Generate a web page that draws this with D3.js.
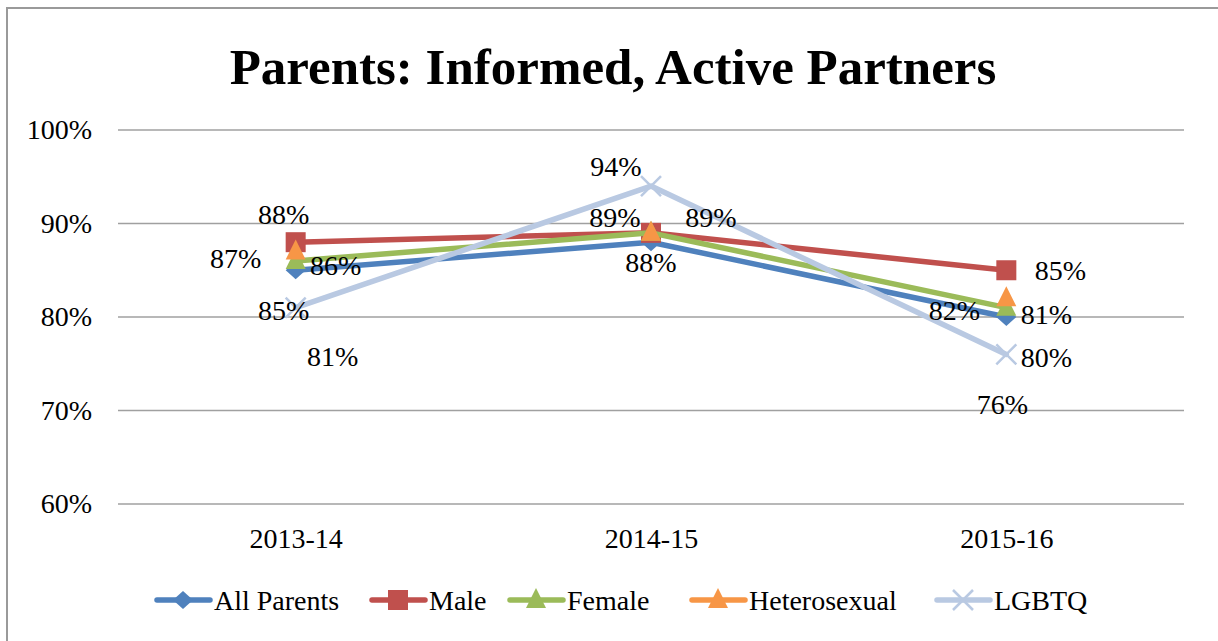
<!DOCTYPE html>
<html>
<head>
<meta charset="utf-8">
<script src="https://cdn.jsdelivr.net/npm/d3@7"></script>
<style>
  body { margin: 0; background: #fff; }
  svg text { font-family: "Liberation Serif", "DejaVu Serif", serif; fill: #000; }
</style>
</head>
<body>
<div id="chart"></div>
<script>
/* CONSTANTS AND GLOBALS */
const width = 1218,
  height = 641,
  margin = { top: 130, bottom: 137, left: 118, right: 34 },
  fontSize = 28;

/* DATA */
const years = ["2013-14", "2014-15", "2015-16"];
const seriesNames = ["All Parents", "Male", "Female", "Heterosexual", "LGBTQ"];
const allParents = [85, 88, 80];
const male = [88, 89, 85];
const female = [86, 89, 81];
const heterosexual = [87, 89, 82];
const lgbtq = [81, 94, 76];
const yTicks = [60, 70, 80, 90, 100];

const values = [allParents, male, female, heterosexual, lgbtq];

// styles, not data
const colors = ["#4F81BD", "#C0504D", "#9BBB59", "#F79646", "#B9C9E2"];
const markers = ["diamond", "square", "triangle", "triangle", "cross"];
// the orange connector is hidden in the original, only its markers show
const showLine = [true, true, true, false, true];
// label offsets [dx, dy] per series per year (hand placed like the original)
const labelOffsets = [
  [[-12, 40], [0, 20], [40, 40]],
  [[-12, -28], [null, null], [54, 0]],
  [[40, 4], [60, -16], [40, 7]],
  [[-60, 7], [-36, -16], [-52, 12]],
  [[37, 49], [-35, -20], [-4, 50]]
];

const svg = d3.select("#chart")
  .append("svg")
  .attr("width", width)
  .attr("height", height);

// outer frame
svg.append("rect")
  .attr("x", 7)
  .attr("y", 8)
  .attr("width", 1230)
  .attr("height", 660)
  .attr("fill", "none")
  .attr("stroke", "#9a9a9a")
  .attr("stroke-width", 2);

svg.append("text")
  .attr("x", 613)
  .attr("y", 84)
  .attr("text-anchor", "middle")
  .attr("font-size", 51)
  .attr("font-weight", "bold")
  .text("Parents: Informed, Active Partners");

/* SCALES */
const xScale = d3.scalePoint()
  .domain(years)
  .range([margin.left, width - margin.right])
  .padding(0.5);

const yScale = d3.scaleLinear()
  .domain([60, 100])
  .range([height - margin.bottom, margin.top]);

/* GRID + AXES */
svg.append("g")
  .selectAll("line")
  .data(yTicks)
  .join("line")
  .attr("x1", margin.left)
  .attr("x2", width - margin.right)
  .attr("y1", d => yScale(d))
  .attr("y2", d => yScale(d))
  .attr("stroke", "#a0a0a0")
  .attr("stroke-width", 1.5);

const yAxis = d3.axisLeft(yScale)
  .tickValues(yTicks)
  .tickSize(0)
  .tickPadding(26)
  .tickFormat(d => d + "%");

svg.append("g")
  .attr("transform", `translate(${margin.left}, 0)`)
  .call(yAxis)
  .call(g => g.select(".domain").remove())
  .attr("font-family", null)
  .selectAll("text")
  .attr("font-size", fontSize);

const xAxis = d3.axisBottom(xScale).tickSize(0).tickPadding(24);

svg.append("g")
  .attr("transform", `translate(0, ${height - margin.bottom})`)
  .call(xAxis)
  .call(g => g.select(".domain").remove())
  .attr("font-family", null)
  .selectAll("text")
  .attr("font-size", fontSize);

/* MARKERS */
function drawMarker(g, type, color) {
  if (type === "diamond") {
    g.append("path").attr("d", "M0,-9L10,0L0,9L-10,0Z").attr("fill", color);
  } else if (type === "square") {
    g.append("rect").attr("x", -10).attr("y", -10).attr("width", 20).attr("height", 20).attr("fill", color);
  } else if (type === "triangle") {
    g.append("path").attr("d", "M0,-12L10,8L-10,8Z").attr("fill", color);
  } else {
    g.append("path").attr("d", "M-10,-10L10,10M-10,10L10,-10").attr("stroke", color).attr("stroke-width", 2.5);
  }
}

const line = d3.line()
  .x((d, i) => xScale(years[i]))
  .y(d => yScale(d));

seriesNames.forEach((name, s) => {
  const g = svg.append("g");
  if (showLine[s]) {
    g.append("path")
      .datum(values[s])
      .attr("d", line)
      .attr("fill", "none")
      .attr("stroke", colors[s])
      .attr("stroke-width", 5.5)
      .attr("stroke-linejoin", "round")
      .attr("stroke-linecap", "round");
  }

  values[s].forEach((v, i) => {
    const m = g.append("g").attr("transform", `translate(${xScale(years[i])}, ${yScale(v)})`);
    drawMarker(m, markers[s], colors[s]);
  });
});

/* DATA LABELS */
seriesNames.forEach((name, s) => {
  values[s].forEach((v, i) => {
    const off = labelOffsets[s][i];
    if (off[0] === null) return;
    svg.append("text")
      .attr("x", xScale(years[i]) + off[0])
      .attr("y", yScale(v) + off[1])
      .attr("dy", "0.35em")
      .attr("text-anchor", "middle")
      .attr("font-size", fontSize)
      .text(v + "%");
  });
});

/* LEGEND */
const legendX = [157, 372, 510, 692, 937];
const legend = svg.append("g").attr("transform", "translate(0, 600)");
seriesNames.forEach((name, s) => {
  const g = legend.append("g").attr("transform", `translate(${legendX[s]}, 0)`);
  g.append("line")
    .attr("x1", 0).attr("x2", 53)
    .attr("stroke", colors[s])
    .attr("stroke-width", 5.5)
    .attr("stroke-linecap", "round");
  const m = g.append("g").attr("transform", "translate(26, 0)");
  drawMarker(m, markers[s], colors[s]);
  g.append("text")
    .attr("x", 57)
    .attr("dy", "0.35em")
    .attr("font-size", fontSize)
    .text(name);
});
</script>
</body>
</html>
